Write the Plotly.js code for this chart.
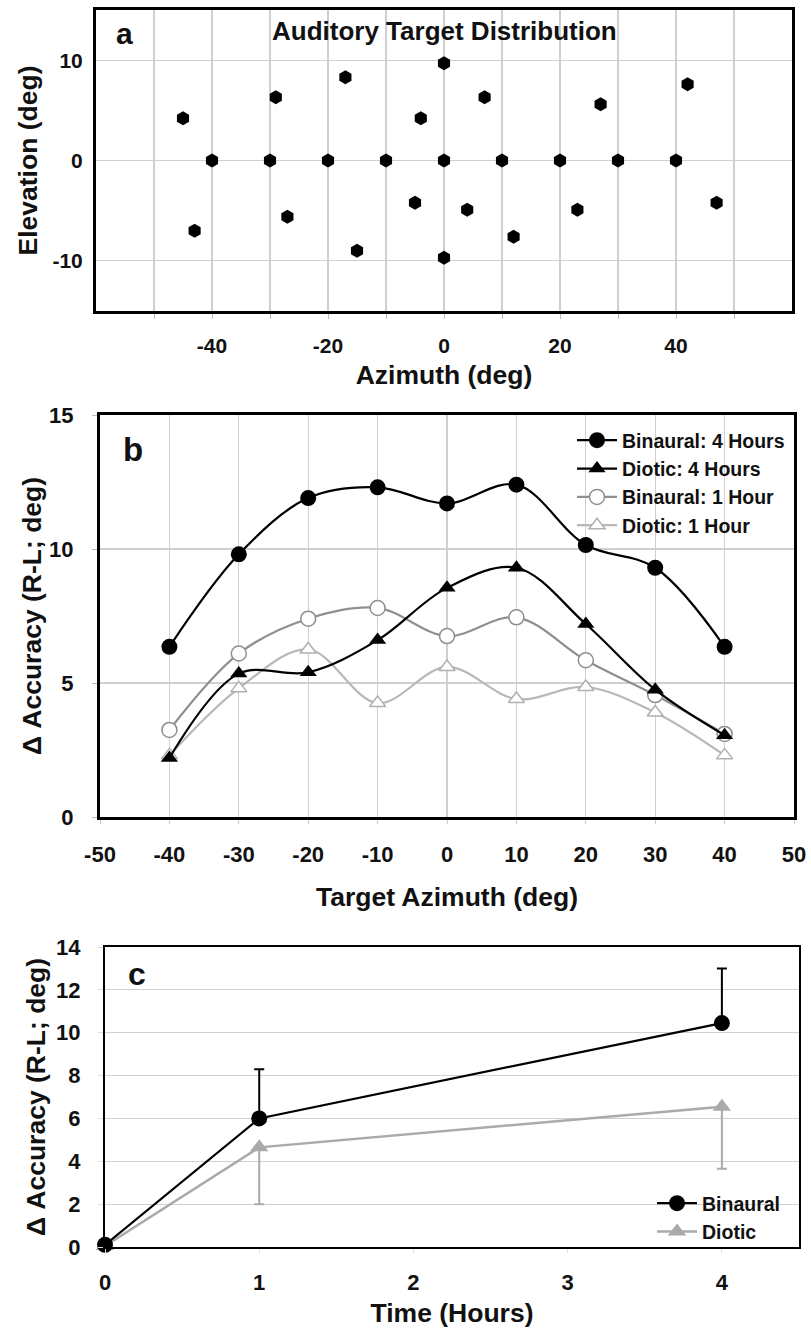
<!DOCTYPE html>
<html>
<head>
<meta charset="utf-8">
<script src="https://cdn.plot.ly/plotly-3.0.1.min.js"></script>
<style>html,body{margin:0;padding:0;background:#fff}#chart{width:811px;height:1328px}</style>
</head>
<body>
<div id="chart"></div>
<script>
// Panel a: auditory target distribution
const targetAzimuth = [-45, -43, -40, -30, -29, -27, -20, -17, -15, -10, -5, -4, 0, 0, 0, 4, 7, 10, 12, 20, 23, 27, 30, 40, 42, 47];
const targetElevation = [4.2, -7.0, 0, 0, 6.3, -5.6, 0, 8.3, -9.0, 0, -4.2, 4.2, 9.7, 0, -9.7, -4.9, 6.3, 0, -7.6, 0, -4.9, 5.6, 0, 0, 7.6, -4.2];
const aXTickVals = [-50, -40, -30, -20, -10, 0, 10, 20, 30, 40, 50];
const aXTickText = ['', '-40', '', '-20', '', '0', '', '20', '', '40', ''];
const aYTickVals = [-10, 0, 10];
const aYTickText = ['-10', '0', '10'];

// Panel b: accuracy change by target azimuth
const bAzimuth = [-40, -30, -20, -10, 0, 10, 20, 30, 40];
const binaural4h = [6.35, 9.8, 11.9, 12.3, 11.7, 12.4, 10.15, 9.3, 6.35];
const diotic4h = [2.2, 5.35, 5.4, 6.6, 8.55, 9.3, 7.2, 4.75, 3.05];
const binaural1h = [3.25, 6.1, 7.4, 7.8, 6.75, 7.45, 5.85, 4.55, 3.1];
const diotic1h = [2.3, 4.8, 6.25, 4.25, 5.6, 4.4, 4.85, 3.9, 2.3];
const bXTickVals = [-50, -40, -30, -20, -10, 0, 10, 20, 30, 40, 50];
const bXTickText = ['-50', '-40', '-30', '-20', '-10', '0', '10', '20', '30', '40', '50'];
const bYTickVals = [0, 5, 10, 15];

// Panel c: accuracy change over time
const timeHours = [0, 1, 4];
const binauralTime = [0.1, 6.0, 10.45];
const binauralErrUp = [0, 2.3, 2.55];
const dioticTime = [0.05, 4.65, 6.55];
const dioticErrDown = [0, 2.65, 2.9];
const cXTickVals = [0, 1, 2, 3, 4];
const cYTickVals = [0, 2, 4, 6, 8, 10, 12, 14];

const FONT = 'Liberation Sans, Arial, Helvetica, sans-serif';
const INK = '#111';
const tickFontA = {family: FONT, size: 21, color: INK, weight: 'bold'};
const tickFontB = {family: FONT, size: 22, color: INK, weight: 'bold'};
const titleFont = {family: FONT, size: 26.5, color: INK, weight: 'bold'};
const legendFont = {family: FONT, size: 19.5, color: INK, weight: 'bold'};
const GRID = '#d0d0d0';

const traces = [
  {x: targetAzimuth, y: targetElevation, type: 'scatter', mode: 'markers', xaxis: 'x', yaxis: 'y',
   marker: {symbol: 'hexagon', size: 14, color: '#000'}, showlegend: false},

  {x: bAzimuth, y: diotic1h, name: 'Diotic: 1 Hour', type: 'scatter', mode: 'lines+markers', xaxis: 'x2', yaxis: 'y2',
   legendgroup: 'd1', legendrank: 4,
   line: {color: '#b8b8b8', width: 2.2, shape: 'spline', smoothing: 1},
   marker: {symbol: 'triangle-up', size: 14, color: '#fff', line: {color: '#b0b0b0', width: 1.5}}},
  {x: bAzimuth, y: binaural1h, name: 'Binaural: 1 Hour', type: 'scatter', mode: 'lines+markers', xaxis: 'x2', yaxis: 'y2',
   legendgroup: 'b1', legendrank: 3,
   line: {color: '#8f8f8f', width: 2.2, shape: 'spline', smoothing: 1},
   marker: {symbol: 'circle', size: 15, color: '#fff', line: {color: '#8f8f8f', width: 1.5}}},
  {x: bAzimuth, y: diotic4h, name: 'Diotic: 4 Hours', type: 'scatter', mode: 'lines+markers', xaxis: 'x2', yaxis: 'y2',
   legendgroup: 'd4', legendrank: 2,
   line: {color: '#000', width: 2.2, shape: 'spline', smoothing: 1},
   marker: {symbol: 'triangle-up', size: 15, color: '#000'}},
  {x: bAzimuth, y: binaural4h, name: 'Binaural: 4 Hours', type: 'scatter', mode: 'lines+markers', xaxis: 'x2', yaxis: 'y2',
   legendgroup: 'b4', legendrank: 1,
   line: {color: '#000', width: 2.2, shape: 'spline', smoothing: 1},
   marker: {symbol: 'circle', size: 16, color: '#000'}},

  {x: timeHours, y: dioticTime, name: 'Diotic', type: 'scatter', mode: 'lines+markers', xaxis: 'x3', yaxis: 'y3', legend: 'legend2',
   line: {color: '#aaaaaa', width: 2.5}, marker: {symbol: 'triangle-up', size: 16, color: '#aaaaaa'}, cliponaxis: false, legendrank: 2,
   error_y: {type: 'data', symmetric: false, array: [0, 0, 0], arrayminus: dioticErrDown, color: '#aaaaaa', thickness: 2, width: 5}},
  {x: timeHours, y: binauralTime, name: 'Binaural', type: 'scatter', mode: 'lines+markers', xaxis: 'x3', yaxis: 'y3', legend: 'legend2',
   line: {color: '#000', width: 2.2}, marker: {symbol: 'circle', size: 16, color: '#000'}, cliponaxis: false, legendrank: 1,
   error_y: {type: 'data', symmetric: false, array: binauralErrUp, arrayminus: [0, 0, 0], color: '#000', thickness: 2, width: 5}}
];

function px2x(p) { return p / 811; }
function px2y(p) { return 1 - p / 1328; }

const boxAxis = {showline: true, mirror: true, linecolor: '#000', linewidth: 3, zeroline: false, gridcolor: GRID, gridwidth: 1.2};

function label(text, x, y, size) {
  return {text: text, xref: 'paper', yref: 'paper', x: px2x(x), y: px2y(y), xanchor: 'center', yanchor: 'middle',
          showarrow: false, font: {family: FONT, size: size, weight: 'bold', color: INK}};
}

const layout = {
  width: 811, height: 1328, margin: {l: 0, r: 0, t: 0, b: 0},
  paper_bgcolor: '#fff', plot_bgcolor: '#fff', font: {family: FONT, color: INK},
  xaxis: Object.assign({}, boxAxis, {domain: [px2x(96), px2x(792)], range: [-60, 60], anchor: 'y',
    tickmode: 'array', tickvals: aXTickVals, ticktext: aXTickText, tickfont: tickFontA,
    ticks: 'outside', ticklen: 5, tickcolor: '#bbb', ticklabelstandoff: 9,
    title: {text: 'Azimuth (deg)', font: titleFont, standoff: 10}}),
  yaxis: Object.assign({}, boxAxis, {domain: [px2y(311), px2y(10)], range: [-15, 15], anchor: 'x',
    tickmode: 'array', tickvals: aYTickVals, ticktext: aYTickText, tickfont: tickFontA, ticklabelstandoff: 6,
    title: {text: 'Elevation (deg)', font: titleFont, standoff: 8}}),

  xaxis2: Object.assign({}, boxAxis, {domain: [px2x(100), px2x(794)], range: [-50, 50], anchor: 'y2',
    tickmode: 'array', tickvals: bXTickVals, ticktext: bXTickText, tickfont: tickFontB,
    ticks: 'outside', ticklen: 4, tickcolor: '#ccc', ticklabelstandoff: 12,
    title: {text: 'Target Azimuth (deg)', font: titleFont, standoff: 22}}),
  yaxis2: Object.assign({}, boxAxis, {domain: [px2y(817), px2y(415)], range: [0, 15], anchor: 'x2',
    tickmode: 'array', tickvals: bYTickVals, tickfont: tickFontB,
    ticks: 'outside', ticklen: 5, tickcolor: '#bbb', ticklabelstandoff: 14,
    title: {text: 'Δ Accuracy (R-L; deg)', font: titleFont, standoff: 0}}),

  xaxis3: Object.assign({}, boxAxis, {domain: [px2x(105), px2x(799)], range: [0, 4.5], anchor: 'y3', linewidth: 2, showgrid: false,
    tickmode: 'array', tickvals: cXTickVals, tickfont: tickFontB,
    ticks: 'outside', ticklen: 4, tickcolor: '#ddd', ticklabelstandoff: 11,
    title: {text: 'Time (Hours)', font: titleFont, standoff: 10}}),
  yaxis3: Object.assign({}, boxAxis, {domain: [px2y(1247), px2y(947)], range: [0, 14], anchor: 'x3', linewidth: 2,
    tickmode: 'array', tickvals: cYTickVals, tickfont: tickFontB,
    ticks: 'outside', ticklen: 5, tickcolor: '#ddd', ticklabelstandoff: 13,
    title: {text: 'Δ Accuracy (R-L; deg)', font: titleFont, standoff: 3}}),

  legend: {x: px2x(572), y: px2y(421), xanchor: 'left', yanchor: 'top', bgcolor: 'rgba(0,0,0,0)',
    font: legendFont, itemwidth: 40, tracegroupgap: 3, traceorder: 'normal'},
  legend2: {x: px2x(652), y: px2y(1184), xanchor: 'left', yanchor: 'top', bgcolor: 'rgba(0,0,0,0)',
    font: legendFont, itemwidth: 40, tracegroupgap: 0},

  annotations: [
    label('a', 124, 34, 30),
    label('Auditory Target Distribution', 444, 31, 26),
    label('b', 133, 449, 33),
    label('c', 137, 974, 32)
  ]
};

Plotly.newPlot('chart', traces, layout, {displayModeBar: false, staticPlot: true});
</script>
</body>
</html>
